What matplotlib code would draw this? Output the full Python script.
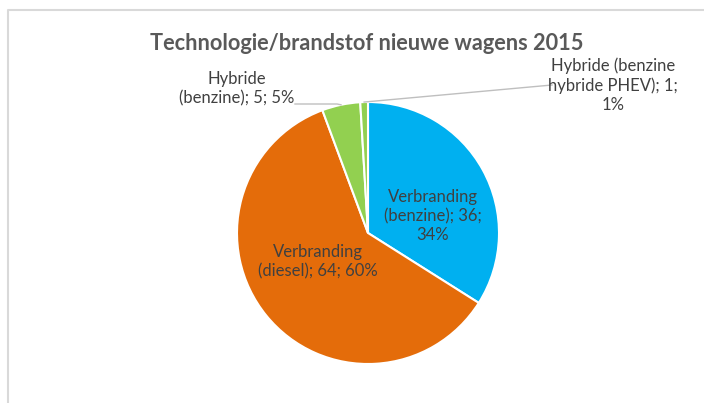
import textwrap
import numpy as np
import matplotlib
matplotlib.use('Agg')
import matplotlib.pyplot as plt

# data
categories = ['Verbranding (benzine)', 'Verbranding (diesel)',
              'Hybride (benzine)', 'Hybride (benzine hybride PHEV)']
values = [36, 64, 5, 1]
colors = ['#00B0F0', '#E46C0A', '#92D050', '#92D050']
wrap_widths = [14, 17, 16, 17]
title = 'Technologie/brandstof nieuwe wagens 2015'

plt.rcParams['font.family'] = ['Lato', 'DejaVu Sans']

fig = plt.figure(figsize=(7.04, 4.03), dpi=100)
ax = fig.add_axes([0, 0, 1, 1])

# chart frame (grey border, partly cut off)
ax.plot([8, 8, 704], [0, 393, 393], color='#D9D9D9', lw=1.5)

cx, cy, r = 368, 170, 131
wedges, _ = ax.pie(values, colors=colors, startangle=90, counterclock=False,
                   center=(cx, cy), radius=r, frame=True,
                   wedgeprops=dict(edgecolor='white', linewidth=1.5))
ax.set_xlim(0, 704)
ax.set_ylim(0, 403)
ax.axis('off')

total = sum(values)
labels = []
for cat, v, w in zip(categories, values, wrap_widths):
    pct = round(100 * v / total)
    labels.append(textwrap.fill(f'{cat}; {v}; {pct}%', w))

lbl_color = '#404040'
fs = 12
ls = 1.25
# labels in the slices
ax.text(433, 187, labels[0], ha='center', va='center', fontsize=fs,
        color=lbl_color, linespacing=ls)
ax.text(318, 141, labels[1], ha='center', va='center', fontsize=fs,
        color=lbl_color, linespacing=ls)
# labels outside with leader lines
ax.text(237, 314, labels[2], ha='center', va='center', fontsize=fs,
        color=lbl_color, linespacing=ls)
ax.text(613, 318, labels[3], ha='center', va='center', fontsize=fs,
        color=lbl_color, linespacing=ls)


def edge_point(wedge):
    ang = np.deg2rad((wedge.theta1 + wedge.theta2) / 2)
    return cx + r * np.cos(ang), cy + r * np.sin(ang)


x2, y2 = edge_point(wedges[2])
ax.plot([295, x2 - 4, x2], [299, 299, y2], color='#BFBFBF', lw=1)
x3, y3 = edge_point(wedges[3])
ax.plot([x3, 552], [y3, 318], color='#BFBFBF', lw=1)

ax.text(367, 360, title, ha='center', va='center', fontsize=15.7,
        color='#595959', fontweight='bold')

fig.savefig('out.png', dpi=100)
